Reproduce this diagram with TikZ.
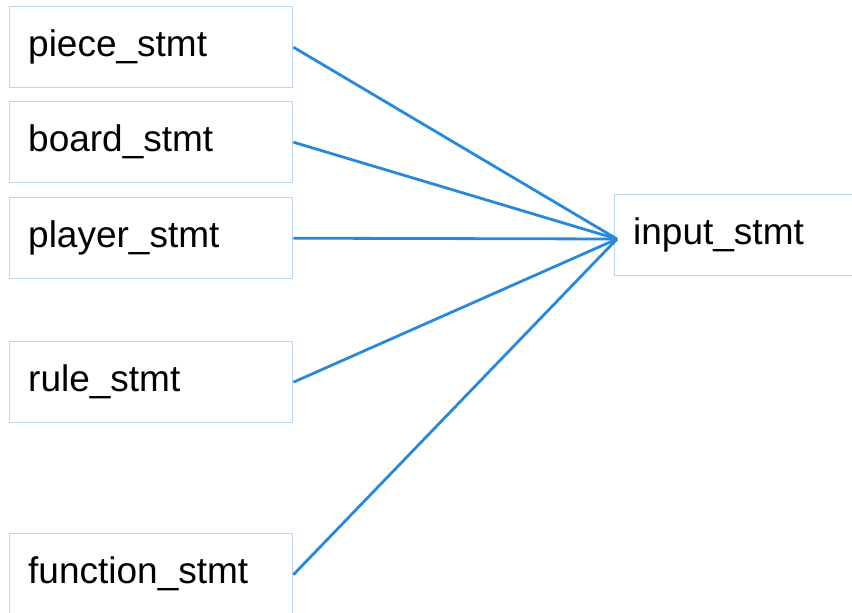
\documentclass[tikz,border=0pt]{standalone}
\usepackage{fontspec}
\setmainfont{Liberation Sans}
\begin{document}
\begin{tikzpicture}[
  x=1pt, y=-1pt,
  stmt/.style={draw={rgb,255:red,186;green,213;blue,245}, line width=1.4pt, rectangle, anchor=north west,
    minimum height=81pt, text width=246pt, inner xsep=18.5pt, align=left,
    font=\fontsize{37}{42}\selectfont},
  link/.style={draw={rgb,255:red,38;green,137;blue,219}, line width=2.8pt}
]
\useasboundingbox (0,0) rectangle (852,613);
\node[stmt] (piece) at (9,6) {piece\_stmt};
\node[stmt] (board) at (9,101) {board\_stmt};
\node[stmt] (player) at (9,197) {player\_stmt};
\node[stmt] (rule) at (9,341) {rule\_stmt};
\node[stmt] (function) at (9,533) {function\_stmt};
\node[stmt, text width=220pt] (input) at (614,194) {input\_stmt};
\coordinate (hub) at (617,239);
\draw[link] (piece.east) -- (hub);
\draw[link] (board.east) -- (hub);
\draw[link] (player.east) -- (hub);
\draw[link] (rule.east) -- (hub);
\draw[link] ([yshift=-0.5pt]function.east) -- (hub);
\end{tikzpicture}
\end{document}
